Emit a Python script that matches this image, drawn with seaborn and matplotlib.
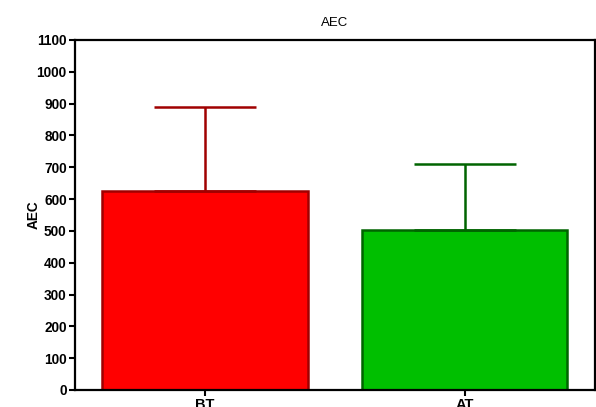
import matplotlib
matplotlib.use("Agg")
import matplotlib.pyplot as plt
import seaborn as sns
import pandas as pd
import numpy as np

categories = ["BT", "AT"]
means = [625, 502]
errors = [265, 208]
bar_colors = ["#FF0000", "#00BF00"]
edge_colors = ["#A00000", "#006400"]
yticks = list(range(0, 1101, 100))

sns.set_theme(style="white")
plt.rcParams["font.family"] = ["Liberation Sans", "DejaVu Sans"]
plt.rcParams["text.color"] = "black"
plt.rcParams["axes.labelcolor"] = "black"
plt.rcParams["xtick.color"] = "black"
plt.rcParams["ytick.color"] = "black"

fig = plt.figure(figsize=(5.96, 4.07), dpi=100)
ax = fig.add_axes([0.1258, 0.0418, 0.872, 0.86])

df = pd.DataFrame({"cat": categories, "val": means})
sns.barplot(data=df, x="cat", y="val", hue="cat", palette=bar_colors,
            legend=False, errorbar=None, width=0.79, ax=ax, saturation=1)
for p, ec in zip(ax.patches, edge_colors):
    p.set_edgecolor(ec)
    p.set_linewidth(1.8)

for i, (m, e, ec) in enumerate(zip(means, errors, edge_colors)):
    ax.errorbar(i, m, yerr=[[0], [e]], fmt="none", ecolor=ec,
                elinewidth=1.8, capsize=37, capthick=1.8, zorder=1)

ax.set_xlim(-0.5, 1.5)
ax.set_ylim(0, 1100)
ax.set_yticks(yticks)
ax.set_yticklabels([str(t) for t in yticks], fontweight="bold", fontsize=9.8, color="black")
ax.set_xticks(range(len(categories)))
ax.set_xticklabels(categories, fontweight="bold", fontsize=10.5, color="black")
ax.set_xlabel("")
ax.set_ylabel("AEC", fontweight="bold", fontsize=9.8, color="black")
ax.yaxis.set_label_coords(-0.066, 0.5)
ax.set_title("AEC", fontsize=9.5, pad=10, color="black")
for s in ax.spines.values():
    s.set_color("black")
    s.set_linewidth(1.6)
ax.tick_params(axis="both", direction="out", length=4, width=1.5, color="black",
               pad=2, left=True, bottom=True)

fig.savefig("out.png", dpi=100)
